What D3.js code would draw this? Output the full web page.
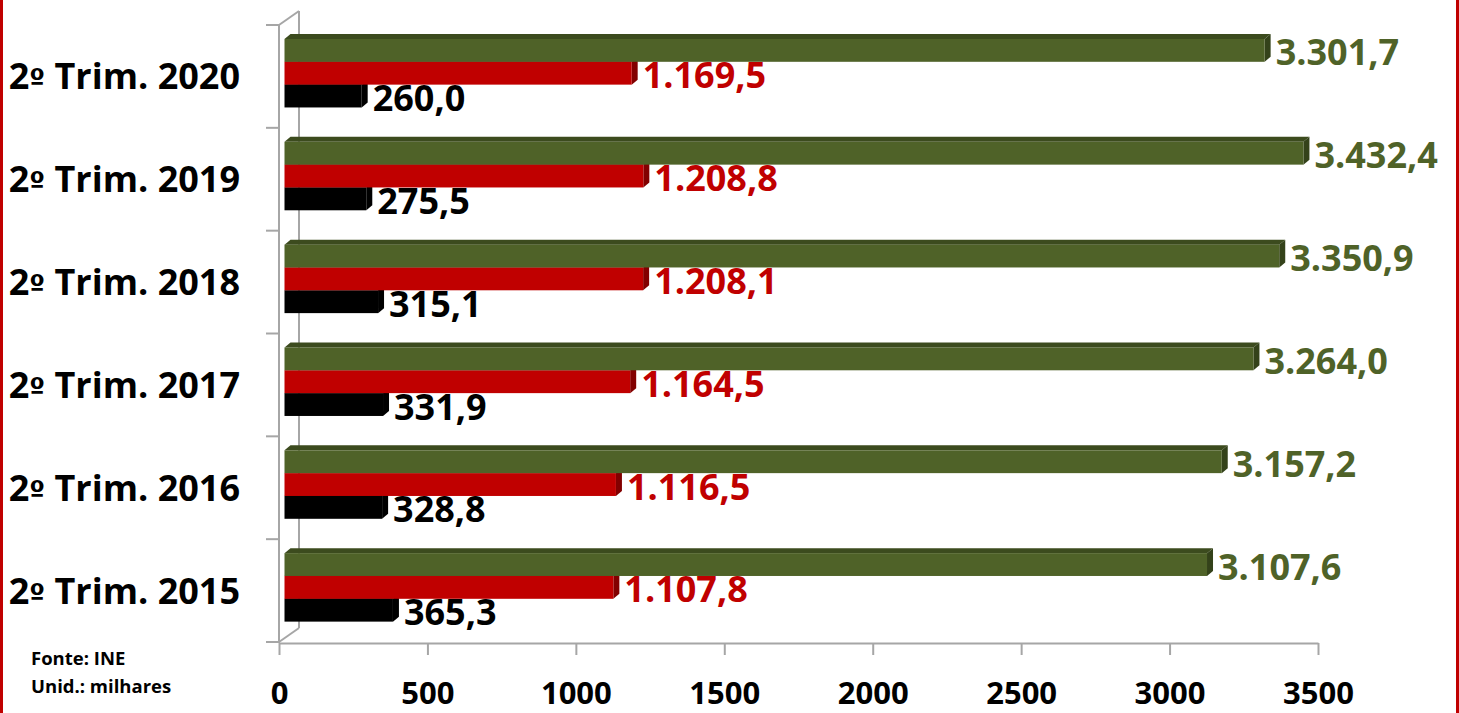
<!DOCTYPE html>
<html>
<head>
<meta charset="utf-8">
<script src="https://cdn.jsdelivr.net/npm/d3@7"></script>
<style>
  html, body { margin: 0; padding: 0; background: #fff; }
  svg { display: block; }
</style>
</head>
<body>
<svg id="chart" width="1459" height="713"></svg>
<script>
// ---- Data ----
const categorias = ["2º Trim. 2015", "2º Trim. 2016", "2º Trim. 2017", "2º Trim. 2018", "2º Trim. 2019", "2º Trim. 2020"];
const terciario  = [3107.6, 3157.2, 3264.0, 3350.9, 3432.4, 3301.7];
const secundario = [1107.8, 1116.5, 1164.5, 1208.1, 1208.8, 1169.5];
const primario   = [365.3, 328.8, 331.9, 315.1, 275.5, 260.0];
const xTicks     = [0, 500, 1000, 1500, 2000, 2500, 3000, 3500];
const fonte      = ["Fonte: INE", "Unid.: milhares"];

const series = [
  { key: "terciario",  values: terciario,  front: "#4F6228", top: "#3C4B1E", side: "#34421A", text: "#4F6228" },
  { key: "secundario", values: secundario, front: "#C00000", top: "#8E0000", side: "#820000", text: "#C00000" },
  { key: "primario",   values: primario,   front: "#000000", top: "#000000", side: "#000000", text: "#000000" }
];

const W = 1459, H = 713;
const svg = d3.select("#chart");
const FONT = "'Open Sans', 'DejaVu Sans', sans-serif";
const gridColor = "#A6A6A6";

// scales
const x = d3.scaleLinear().domain([0, 3500]).range([279, 1318]);
const catOrder = categorias.slice().reverse(); // top to bottom
const y = d3.scaleBand().domain(catOrder).range([25, 642]).paddingInner(0.334).paddingOuter(0.167);
const ySeries = d3.scaleBand().domain(series.map(s => s.key)).range([0, y.bandwidth()]);

// depth projection
const wallDx = 20, wallDy = 14;
const barShiftX = 5.5, barShiftY = -3.2;
const dDx = 6, dDy = 5;

// borders
svg.append("rect").attr("x", 0).attr("y", 0).attr("width", 3).attr("height", H).attr("fill", "#C00000");
svg.append("rect").attr("x", W - 3).attr("y", 0).attr("width", 3).attr("height", H).attr("fill", "#C00000");

// walls / axes lines
const axisG = svg.append("g").attr("stroke", gridColor).attr("stroke-width", 2).attr("fill", "none");
const yTop = y.range()[0], yBot = y.range()[1];
const x0 = x(0);
axisG.append("line").attr("x1", x0).attr("x2", x0).attr("y1", yTop).attr("y2", yBot + 1);
axisG.append("line").attr("x1", x0 + wallDx).attr("x2", x0 + wallDx).attr("y1", yTop - wallDy).attr("y2", yBot - wallDy);
axisG.append("line").attr("x1", x0).attr("x2", x0 + wallDx).attr("y1", yTop).attr("y2", yTop - wallDy);
axisG.append("line").attr("x1", x0).attr("x2", x0 + wallDx).attr("y1", yBot).attr("y2", yBot - wallDy);
d3.range(categorias.length + 1).forEach(i => {
  const yy = yTop + i * y.step();
  axisG.append("line").attr("x1", x0 - 13).attr("x2", x0).attr("y1", yy).attr("y2", yy);
});

// bottom axis
const xAxis = d3.axisBottom(x).tickValues(xTicks).tickFormat(d3.format("d"))
  .tickSizeInner(12).tickSizeOuter(0).tickPadding(27);
const xg = svg.append("g").attr("transform", `translate(0,${yBot + 1})`).call(xAxis);
xg.select(".domain").attr("stroke", gridColor).attr("stroke-width", 2);
xg.selectAll(".tick line").attr("stroke", gridColor).attr("stroke-width", 2);
xg.selectAll(".tick text").attr("font-family", FONT).attr("font-weight", 700)
  .attr("font-size", 31).attr("fill", "#000");

// category labels (ordinal sign with underline, as in the original font)
const catText = svg.append("g").selectAll("text").data(catOrder).join("text")
  .attr("x", 240)
  .attr("y", d => y(d) + y.bandwidth() / 2 + 13)
  .attr("text-anchor", "end")
  .attr("font-family", FONT).attr("font-weight", 700).attr("font-size", 36)
  .attr("fill", "#000");
catText.each(function(d) {
  const t = d3.select(this);
  const i = d.indexOf("º");
  t.append("tspan").text(d.slice(0, i));
  t.append("tspan").attr("font-family", "'DejaVu Sans', sans-serif").attr("font-size", 28).text("º");
  t.append("tspan").text(d.slice(i + 1));
});

// bars
const barsG = svg.append("g").attr("transform", `translate(${barShiftX},${barShiftY})`);
const seriesBottomUp = series.slice().reverse();
categorias.forEach((cat, ci) => {
  seriesBottomUp.forEach(s => {
    const v = s.values[ci];
    const xa = x(0), xb = x(v);
    const ya = y(cat) + ySeries(s.key), yb = ya + ySeries.bandwidth();
    const g = barsG.append("g");
    g.append("polygon")
      .attr("points", [[xa, ya], [xa + dDx, ya - dDy], [xb + dDx, ya - dDy], [xb, ya]].map(p => p.join(",")).join(" "))
      .attr("fill", s.top);
    g.append("polygon")
      .attr("points", [[xb, ya], [xb + dDx, ya - dDy], [xb + dDx, yb - dDy], [xb, yb]].map(p => p.join(",")).join(" "))
      .attr("fill", s.side);
    g.append("rect").attr("x", xa).attr("y", ya).attr("width", xb - xa).attr("height", yb - ya)
      .attr("fill", s.front);
  });
});

// value labels
const ptLocale = d3.formatLocale({ decimal: ",", thousands: ".", grouping: [3], currency: ["", "€"] });
const fmt = ptLocale.format(",.1f");
const labelsG = svg.append("g").attr("transform", `translate(${barShiftX},${barShiftY})`);
categorias.forEach((cat, ci) => {
  series.forEach(s => {
    const v = s.values[ci];
    const yc = y(cat) + ySeries(s.key) + ySeries.bandwidth() / 2;
    labelsG.append("text")
      .attr("x", x(v) + dDx + 5)
      .attr("y", yc + 15)
      .attr("font-family", FONT).attr("font-weight", 700).attr("font-size", 36)
      .attr("fill", s.text)
      .text(fmt(v));
  });
});

// source note
svg.append("g").selectAll("text").data(fonte).join("text")
  .attr("x", 31)
  .attr("y", (d, i) => 665 + i * 28)
  .attr("font-family", FONT).attr("font-weight", 700).attr("font-size", 18.5)
  .attr("fill", "#000")
  .text(d => d);
</script>
</body>
</html>
